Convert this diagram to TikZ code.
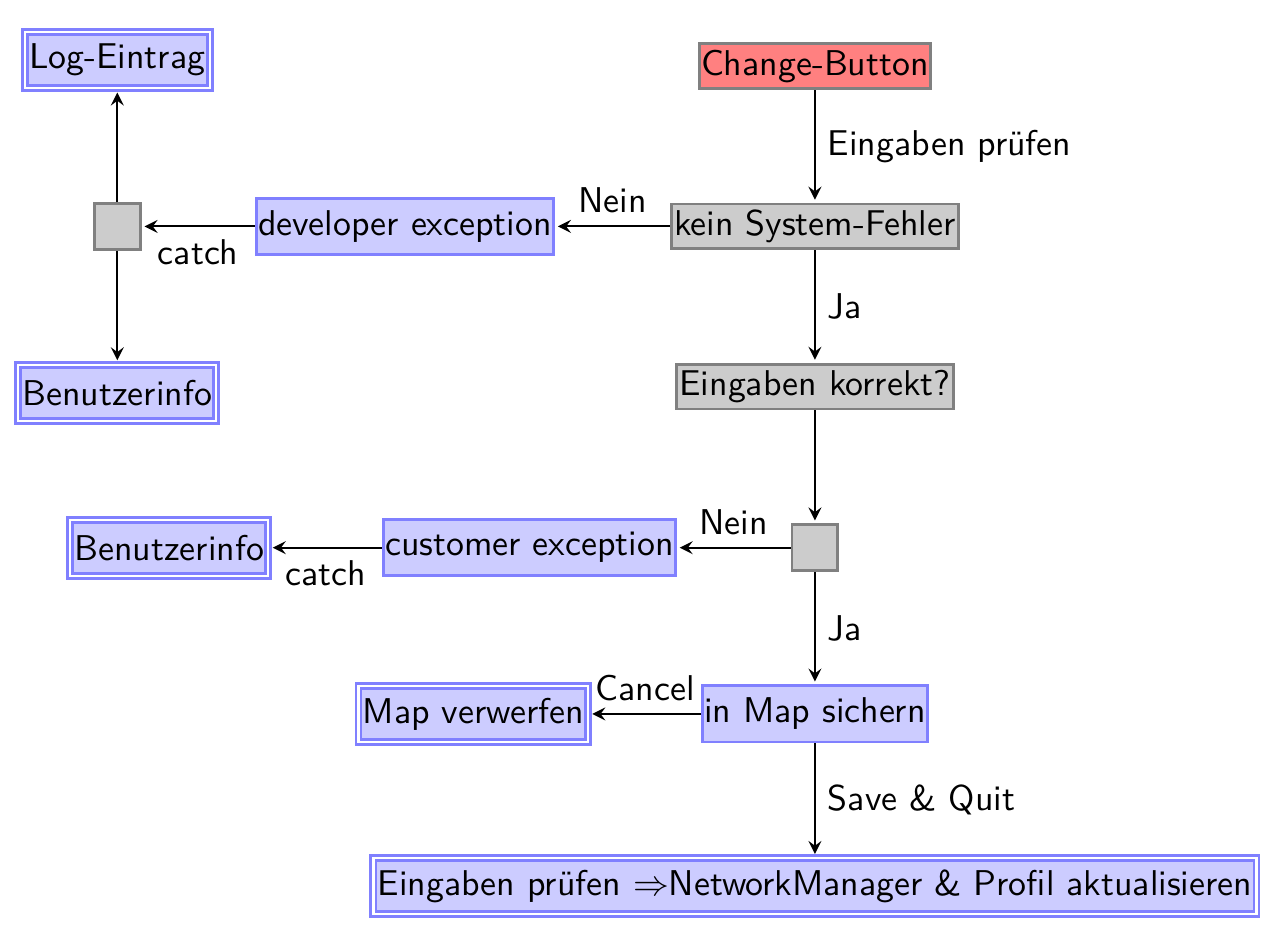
\documentclass[tikz,border=0pt]{standalone}
\usepackage{tikz}
\usetikzlibrary{positioning}
\begin{document}
\begin{tikzpicture}[font=\sffamily,>=stealth,
  startbox/.style={draw=black!50,thick,fill=red!50,minimum height=0.44cm,inner xsep=0.5pt,inner ysep=0pt},
  checkbox/.style={draw=black!50,thick,fill=black!20,minimum height=0.44cm,inner xsep=0.8pt,inner ysep=0pt},
  branchbox/.style={draw=black!50,thick,fill=black!20,minimum size=0.45cm,inner sep=0pt},
  actionbox/.style={draw=blue!50,thick,fill=blue!20,minimum height=0.55cm,inner xsep=0.5pt,inner ysep=0pt},
  resultbox/.style={actionbox,double,inner xsep=1.2pt},
  flow/.style={->,semithick,shorten >=0.8pt}]
  \useasboundingbox (0,0) rectangle (12.54,9.13);
  % main column
  \node[startbox]  (change)  at (7.99,8.48) {Change-Button};
  \node[checkbox]  (syserr)  at (7.99,6.91) {kein System-Fehler};
  \node[checkbox]  (korrekt) at (7.99,5.34) {Eingaben korrekt?};
  \node[branchbox] (split)   at (7.99,3.76) {};
  \node[actionbox] (sichern) at (7.99,2.13) {in Map sichern};
  \node[resultbox] (update)  at (7.99,0.44) {Eingaben prüfen $\Rightarrow$NetworkManager \& Profil aktualisieren};
  % side branches
  \node[actionbox] (devexc)  at (3.97,6.91) {developer exception};
  \node[branchbox] (catch)   at (1.15,6.91) {};
  \node[resultbox] (log)     at (1.15,8.54) {Log-Eintrag};
  \node[resultbox] (infoA)   at (1.15,5.28) {Benutzerinfo};
  \node[actionbox] (custexc) at (5.19,3.76) {customer exception};
  \node[resultbox] (infoB)   at (1.66,3.76) {Benutzerinfo};
  \node[resultbox] (discard) at (4.64,2.13) {Map verwerfen};

  \draw[flow] (change)  -- node[right] {Eingaben prüfen} (syserr);
  \draw[flow] (syserr)  -- node[right] {Ja} (korrekt);
  \draw[flow] (syserr)  -- node[above] {Nein} (devexc);
  \draw[flow] (devexc)  -- node[below] {catch} (catch);
  \draw[flow] (catch)   -- (log);
  \draw[flow] (catch)   -- (infoA);
  \draw[flow] (korrekt) -- (split);
  \draw[flow] (split)   -- node[above] {Nein} (custexc);
  \draw[flow] (custexc) -- node[below] {catch} (infoB);
  \draw[flow] (split)   -- node[right] {Ja} (sichern);
  \draw[flow] (sichern) -- node[above] {Cancel} (discard);
  \draw[flow] (sichern) -- node[right] {Save \& Quit} (update);
\end{tikzpicture}
\end{document}
